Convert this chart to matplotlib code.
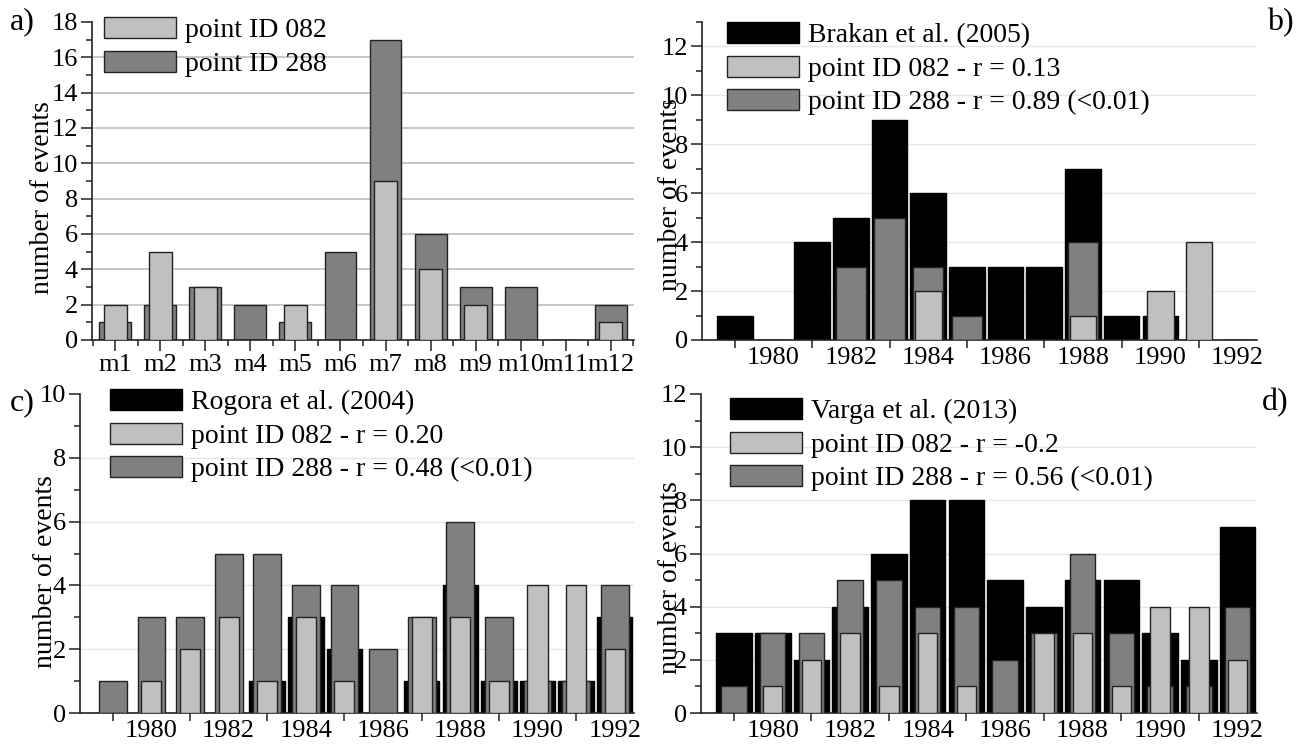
import matplotlib.pyplot as plt
from matplotlib.ticker import MultipleLocator

plt.rcParams['font.family'] = ['Liberation Serif', 'DejaVu Serif']

# panel a - monthly counts
months = ['m1', 'm2', 'm3', 'm4', 'm5', 'm6', 'm7', 'm8', 'm9', 'm10', 'm11', 'm12']
a_082 = [2, 5, 3, 0, 2, 0, 9, 4, 2, 0, 0, 1]
a_288 = [1, 2, 3, 2, 1, 5, 17, 6, 3, 3, 0, 2]

# panels b, c, d - yearly counts
years = [1979, 1980, 1981, 1982, 1983, 1984, 1985, 1986, 1987, 1988, 1989, 1990, 1991, 1992]
year_labels = [1980, 1982, 1984, 1986, 1988, 1990, 1992]
odd_years = [1979, 1981, 1983, 1985, 1987, 1989, 1991]

b_ref = [1, 0, 4, 5, 9, 6, 3, 3, 3, 7, 1, 1, 0, 0]
b_082 = [0, 0, 0, 0, 0, 2, 0, 0, 0, 1, 0, 2, 4, 0]
b_288 = [0, 0, 0, 3, 5, 3, 1, 0, 0, 4, 0, 0, 0, 0]

c_ref = [0, 0, 0, 0, 1, 3, 2, 0, 1, 4, 1, 1, 1, 3]
c_082 = [0, 1, 2, 3, 1, 3, 1, 0, 3, 3, 1, 4, 4, 2]
c_288 = [1, 3, 3, 5, 5, 4, 4, 2, 3, 6, 3, 1, 1, 4]

d_ref = [3, 3, 2, 4, 6, 8, 8, 5, 4, 5, 5, 3, 2, 7]
d_082 = [0, 1, 2, 3, 1, 3, 1, 0, 3, 3, 1, 4, 4, 2]
d_288 = [1, 3, 3, 5, 5, 4, 4, 2, 3, 6, 3, 1, 1, 4]

LIGHT = '#c0c0c0'
DARK = '#808080'
EDGE = '#222222'

W, H = 1298, 749
fig = plt.figure(figsize=(W / 100, H / 100), dpi=100)


def box(left, right, top, bottom):
    return [left / W, 1 - bottom / H, (right - left) / W, (bottom - top) / H]


def style(ax, ymax, grid_color, grid_lw):
    ax.set_ylim(0, ymax)
    ax.spines['top'].set_visible(False)
    ax.spines['right'].set_visible(False)
    for s in ['left', 'bottom']:
        ax.spines[s].set_linewidth(1.2)
        ax.spines[s].set_color('#222222')
    ax.yaxis.set_major_locator(MultipleLocator(2))
    ax.yaxis.set_minor_locator(MultipleLocator(1))
    ax.tick_params(axis='y', which='major', direction='out', length=8, width=1.1,
                   labelsize=19, pad=2, color='#222222')
    ax.tick_params(axis='y', which='minor', direction='out', length=4.5, width=1.1,
                   color='#222222')
    for v in range(2, ymax + 1, 2):
        if v < ymax:
            ax.axhline(v, color=grid_color, lw=grid_lw, zorder=0)


def legend(ax, handles, labels, x, y):
    ax.legend(handles, labels, loc='upper left', bbox_to_anchor=(x / W, 1 - y / H),
              bbox_transform=fig.transFigure, frameon=False, fontsize=20,
              handlelength=2.6, handleheight=0.78, handletextpad=0.32,
              labelspacing=0.27, borderpad=0, borderaxespad=0)


def year_axis(ax):
    ax.set_xlim(1978.15, 1992.5)
    ax.set_xticks(year_labels)
    ax.set_xticks(odd_years, minor=True)
    ax.tick_params(axis='x', which='major', length=0, labelsize=19, pad=5)
    ax.tick_params(axis='x', which='minor', direction='out', length=5.5, width=1.1,
                   color='#222222')


# ---- a)
ax = fig.add_axes(box(92, 634, 22, 340))
xm = list(range(1, 13))
h288 = ax.bar(xm, a_288, width=0.71, color=DARK, edgecolor=EDGE, lw=1, zorder=2)
h082 = ax.bar(xm, a_082, width=0.51, color=LIGHT, edgecolor=EDGE, lw=1, zorder=3)
style(ax, 18, '#c8c8c8', 1.4)
ax.set_xlim(0.48, 12.52)
ax.set_xticks(xm)
ax.set_xticklabels(months)
ax.set_xticks([i + 0.5 for i in range(0, 13)], minor=True)
ax.tick_params(axis='x', which='major', direction='out', length=8, width=1.1,
               labelsize=19, pad=2, color='#222222')
ax.tick_params(axis='x', which='minor', direction='out', length=4.5, width=1.1,
               color='#222222')
legend(ax, [h082, h288], ['point ID 082', 'point ID 288'], 104, 17)

# ---- b)
ax = fig.add_axes(box(702, 1257, 22, 340))
hr = ax.bar(years, b_ref, width=0.92, color='black', edgecolor='black', lw=1, zorder=2)
h288 = ax.bar(years, b_288, width=0.78, color=DARK, edgecolor=EDGE, lw=1, zorder=3)
h082 = ax.bar(years, b_082, width=0.69, color=LIGHT, edgecolor=EDGE, lw=1, zorder=4)
style(ax, 13, '#e6e6e6', 1)
ax.set_yticks(range(0, 13, 2))
year_axis(ax)
legend(ax, [hr, h082, h288], ['Brakan et al. (2005)', 'point ID 082 - r = 0.13',
                              'point ID 288 - r = 0.89 (<0.01)'], 727, 22)

# ---- c)
ax = fig.add_axes(box(80, 634, 394, 713))
hr = ax.bar(years, c_ref, width=0.92, color='black', edgecolor='black', lw=1, zorder=2)
h288 = ax.bar(years, c_288, width=0.72, color=DARK, edgecolor=EDGE, lw=1, zorder=3)
h082 = ax.bar(years, c_082, width=0.52, color=LIGHT, edgecolor=EDGE, lw=1, zorder=4)
style(ax, 10, '#e6e6e6', 1)
year_axis(ax)
legend(ax, [hr, h082, h288], ['Rogora et al. (2004)', 'point ID 082 - r = 0.20',
                              'point ID 288 - r = 0.48 (<0.01)'], 110, 389)

# ---- d)
ax = fig.add_axes(box(701, 1257, 394, 713))
hr = ax.bar(years, d_ref, width=0.92, color='black', edgecolor='black', lw=1, zorder=2)
h288 = ax.bar(years, d_288, width=0.66, color=DARK, edgecolor=EDGE, lw=1, zorder=3)
h082 = ax.bar(years, d_082, width=0.50, color=LIGHT, edgecolor=EDGE, lw=1, zorder=4)
style(ax, 12, '#e6e6e6', 1)
year_axis(ax)
legend(ax, [hr, h082, h288], ['Varga et al. (2013)', 'point ID 082 - r = -0.2',
                              'point ID 288 - r = 0.56 (<0.01)'], 730, 398)

# y labels and panel letters
for x, y in [(43, 198), (670, 195), (46, 572), (670, 578)]:
    fig.text(x / W, 1 - y / H, 'number of events', rotation=90, ha='center',
             va='center', fontsize=20)
for s, x, y in [('a)', 22, 22), ('b)', 1280, 23), ('c)', 22, 403), ('d)', 1275, 403)]:
    fig.text(x / W, 1 - y / H, s, ha='center', va='center', fontsize=23)

fig.savefig('out.png', dpi=100)
